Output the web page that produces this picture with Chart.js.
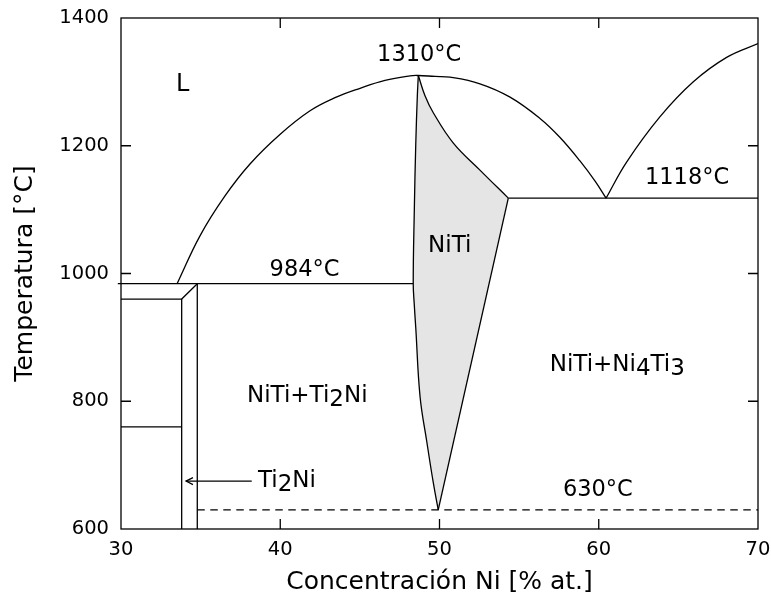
<!DOCTYPE html>
<html>
<head>
<meta charset="utf-8">
<script src="https://cdn.jsdelivr.net/npm/chart.js@4.4.1/dist/chart.umd.min.js"></script>
<style>
  html, body { margin: 0; padding: 0; background: #ffffff; }
  canvas { display: block; }
</style>
</head>
<body>
<canvas id="phase" width="771" height="597"></canvas>
<script>
// Ni–Ti phase diagram, 30–70 at.% Ni, 600–1400 °C

// liquidus over the NiTi phase (peak 1310 °C)
const domeNi = [33.52, 34.96, 36.53, 38.10, 39.98, 41.87, 43.44, 45.01, 46.58, 48.15, 48.65, 49.72, 50.66, 52.54, 54.43, 56.31, 57.57, 58.82, 59.77, 60.46];
const domeT  = [984, 1059, 1121.4, 1171.4, 1217.6, 1254.7, 1275.2, 1290.0, 1302.4, 1309.5, 1310, 1308.5, 1307.4, 1297.0, 1276.1, 1242.8, 1213.0, 1176.3, 1144.7, 1118];

// liquidus rising from the eutectic towards Ni-rich side
const ni3Ni = [60.46, 61.75, 63.85, 65.94, 68.03, 70];
const ni3T  = [1118, 1174.5, 1245.6, 1300.2, 1338.4, 1360];

// NiTi single-phase field: Ni-rich upper boundary, Ni-rich lower boundary, Ti-rich boundary
const nitiUpperNi = [48.67, 49.09, 49.61, 50.87, 52.54, 54.32];
const nitiUpperT  = [1310, 1278.3, 1251.7, 1204.2, 1161.9, 1118];
const nitiLowerNi = [54.32, 49.92];
const nitiLowerT  = [1118, 630];
const nitiTiSideNi = [49.92, 49.61, 49.20, 48.78, 48.51, 48.42, 48.35, 48.42, 48.51, 48.61, 48.67];
const nitiTiSideT  = [630, 672.5, 737.0, 807.1, 914.6, 949.7, 984, 1101.5, 1203.2, 1279.4, 1310];

// isotherms
const eutecticHighT = 1118;
const eutecticHighNi = [54.32, 70];
const eutecticLowT = 984;
const eutecticLowNi = [29.8, 48.35];
const precipT = 630;
const precipNi = [34.79, 70];

// Ti2Ni field boundaries
const ti2niLeftNi = 33.81;
const ti2niRightNi = 34.79;
const ti2niTopT = 960;
const ti2niInnerT = 760;
const axisMinT = 600;

// pointer to the Ti2Ni field
const arrowNi = [38.21, 34.08];
const arrowT = 675;

// axis ticks
const niTicks = [30, 40, 50, 60, 70];
const tTicks = [600, 800, 1000, 1200, 1400];

// region and isotherm labels (anchored at left end of baseline)
const labelParts = [
  [['L', 0]],
  [['1310°C', 0]],
  [['1118°C', 0]],
  [['984°C', 0]],
  [['NiTi', 0]],
  [['NiTi+Ti', 0], ['2', 1], ['Ni', 0]],
  [['NiTi+Ni', 0], ['4', 1], ['Ti', 0], ['3', 1]],
  [['Ti', 0], ['2', 1], ['Ni', 0]],
  [['630°C', 0]]
];
const labelNi = [33.45, 46.08, 62.90, 39.33, 49.28, 37.91, 56.92, 38.60, 57.75];
const labelT  = [1285.7, 1333.2, 1140, 996, 1034, 799.3, 847.8, 666.2, 651.6];
const labelSize = [24, 22.5, 22.5, 22.5, 23, 23, 23, 23, 22.5];

const FONT = "'DejaVu Sans', 'Bitstream Vera Sans', sans-serif";
Chart.defaults.font.family = FONT;
Chart.defaults.color = '#000000';

const pts = (xs, ys) => xs.map((x, i) => ({ x, y: Array.isArray(ys) ? ys[i] : ys }));

function lineSet(data, extra) {
  return Object.assign({
    data,
    showLine: true,
    borderColor: '#000000',
    borderWidth: 1.3,
    pointRadius: 0,
    pointHoverRadius: 0,
    fill: false,
    tension: 0
  }, extra || {});
}

const datasets = [
  lineSet(pts(nitiUpperNi, nitiUpperT), { tension: 0.4, field: 'NiTi' }),
  lineSet(pts(nitiLowerNi, nitiLowerT), { field: 'NiTi' }),
  lineSet(pts(nitiTiSideNi, nitiTiSideT), { tension: 0.4, field: 'NiTi' }),
  lineSet(pts(domeNi, domeT), { tension: 0.4 }),
  lineSet(pts(ni3Ni, ni3T), { tension: 0.4 }),
  lineSet(pts(eutecticHighNi, eutecticHighT)),
  lineSet(pts(eutecticLowNi, eutecticLowT), { clip: false }),
  lineSet(pts([30, ti2niLeftNi, ti2niRightNi], [ti2niTopT, ti2niTopT, eutecticLowT])),
  lineSet(pts([ti2niLeftNi, ti2niLeftNi], [ti2niTopT, axisMinT])),
  lineSet(pts([ti2niRightNi, ti2niRightNi], [eutecticLowT, axisMinT])),
  lineSet(pts([30, ti2niLeftNi], ti2niInnerT)),
  lineSet(pts(precipNi, precipT), { borderDash: [7.5, 5.5], borderWidth: 1.2 }),
  lineSet(pts(arrowNi, arrowT), { arrowHead: true, borderWidth: 1.2 })
];

const fieldFill = { NiTi: '#e5e5e5' };

// fills the single-phase field from its boundary lines, then frame, ticks and labels
const diagramDecor = {
  id: 'diagramDecor',
  beforeDatasetsDraw(chart) {
    const ctx = chart.ctx;
    const area = chart.chartArea;
    Object.keys(fieldFill).forEach(name => {
      const lines = [];
      chart.data.datasets.forEach((ds, i) => {
        if (ds.field !== name) return;
        const line = chart.getDatasetMeta(i).dataset;
        line.updateControlPoints(area, 'x');
        lines.push(line);
      });
      let started = false;
      const chain = {
        moveTo(x, y) { if (started) { ctx.lineTo(x, y); } else { ctx.moveTo(x, y); started = true; } },
        lineTo(x, y) { ctx.lineTo(x, y); },
        bezierCurveTo(a, b, c, d, e, f) { ctx.bezierCurveTo(a, b, c, d, e, f); },
        closePath() {}
      };
      ctx.save();
      ctx.beginPath();
      ctx.rect(area.left, area.top, area.right - area.left, area.bottom - area.top);
      ctx.clip();
      ctx.beginPath();
      lines.forEach(l => l.path(chain));
      ctx.closePath();
      ctx.fillStyle = fieldFill[name];
      ctx.fill();
      ctx.restore();
    });
  },
  afterDatasetsDraw(chart) {
    const ctx = chart.ctx;
    const area = chart.chartArea;
    const xs = chart.scales.x;
    const ys = chart.scales.y;

    chart.data.datasets.forEach((ds, i) => {
      if (!ds.arrowHead) return;
      const meta = chart.getDatasetMeta(i);
      const tip = meta.data[meta.data.length - 1];
      ctx.save();
      ctx.strokeStyle = '#000';
      ctx.lineWidth = 1.2;
      ctx.beginPath();
      ctx.moveTo(tip.x + 7, tip.y - 3.5);
      ctx.lineTo(tip.x, tip.y);
      ctx.lineTo(tip.x + 7, tip.y + 3.5);
      ctx.stroke();
      ctx.restore();
    });

    ctx.save();
    ctx.strokeStyle = '#000';
    ctx.lineWidth = 1.3;
    ctx.strokeRect(area.left, area.top, area.right - area.left, area.bottom - area.top);
    const tl = 10;
    ctx.beginPath();
    niTicks.slice(1, -1).forEach(v => {
      const px = xs.getPixelForValue(v);
      ctx.moveTo(px, area.bottom); ctx.lineTo(px, area.bottom - tl);
      ctx.moveTo(px, area.top); ctx.lineTo(px, area.top + tl);
    });
    tTicks.slice(1, -1).forEach(v => {
      const py = ys.getPixelForValue(v);
      ctx.moveTo(area.left, py); ctx.lineTo(area.left + tl, py);
      ctx.moveTo(area.right, py); ctx.lineTo(area.right - tl, py);
    });
    ctx.stroke();

    ctx.fillStyle = '#000';
    ctx.textBaseline = 'alphabetic';
    ctx.textAlign = 'left';
    labelParts.forEach((parts, i) => {
      const size = labelSize[i];
      let px = xs.getPixelForValue(labelNi[i]);
      const py = ys.getPixelForValue(labelT[i]);
      ctx.font = size + 'px ' + FONT;
      parts.forEach(([txt, sub]) => {
        ctx.fillText(txt, px, py + (sub ? size * 0.2 : 0));
        px += ctx.measureText(txt).width;
      });
    });
    ctx.restore();
  }
};

new Chart(document.getElementById('phase'), {
  type: 'scatter',
  data: { datasets },
  options: {
    responsive: false,
    animation: false,
    devicePixelRatio: 1,
    layout: { padding: { top: 18, right: 13, left: 0, bottom: 0 } },
    plugins: { legend: { display: false }, tooltip: { enabled: false } },
    scales: {
      x: {
        type: 'linear',
        min: 30, max: 70,
        afterBuildTicks: s => { s.ticks = niTicks.map(v => ({ value: v })); },
        afterFit: s => { s.height = 68; s.paddingLeft = 0; s.paddingRight = 0; },
        grid: { display: false, drawTicks: false },
        border: { display: false },
        ticks: { font: { size: 19.5 }, color: '#000', padding: 9, maxRotation: 0, callback: v => String(v) },
        title: { display: true, text: 'Concentración Ni [% at.]', font: { size: 25 }, color: '#000', padding: { top: 0, bottom: 0 } }
      },
      y: {
        type: 'linear',
        min: 600, max: 1400,
        afterBuildTicks: s => { s.ticks = tTicks.map(v => ({ value: v })); },
        afterFit: s => { s.width = 121; s.paddingTop = 0; s.paddingBottom = 0; },
        grid: { display: false, drawTicks: false },
        border: { display: false },
        ticks: { font: { size: 19.5 }, color: '#000', padding: 12, callback: v => String(v) },
        title: { display: true, text: 'Temperatura [°C]', font: { size: 25 }, color: '#000', padding: { top: 10, bottom: 0 } }
      }
    }
  },
  plugins: [diagramDecor]
});
</script>
</body>
</html>
